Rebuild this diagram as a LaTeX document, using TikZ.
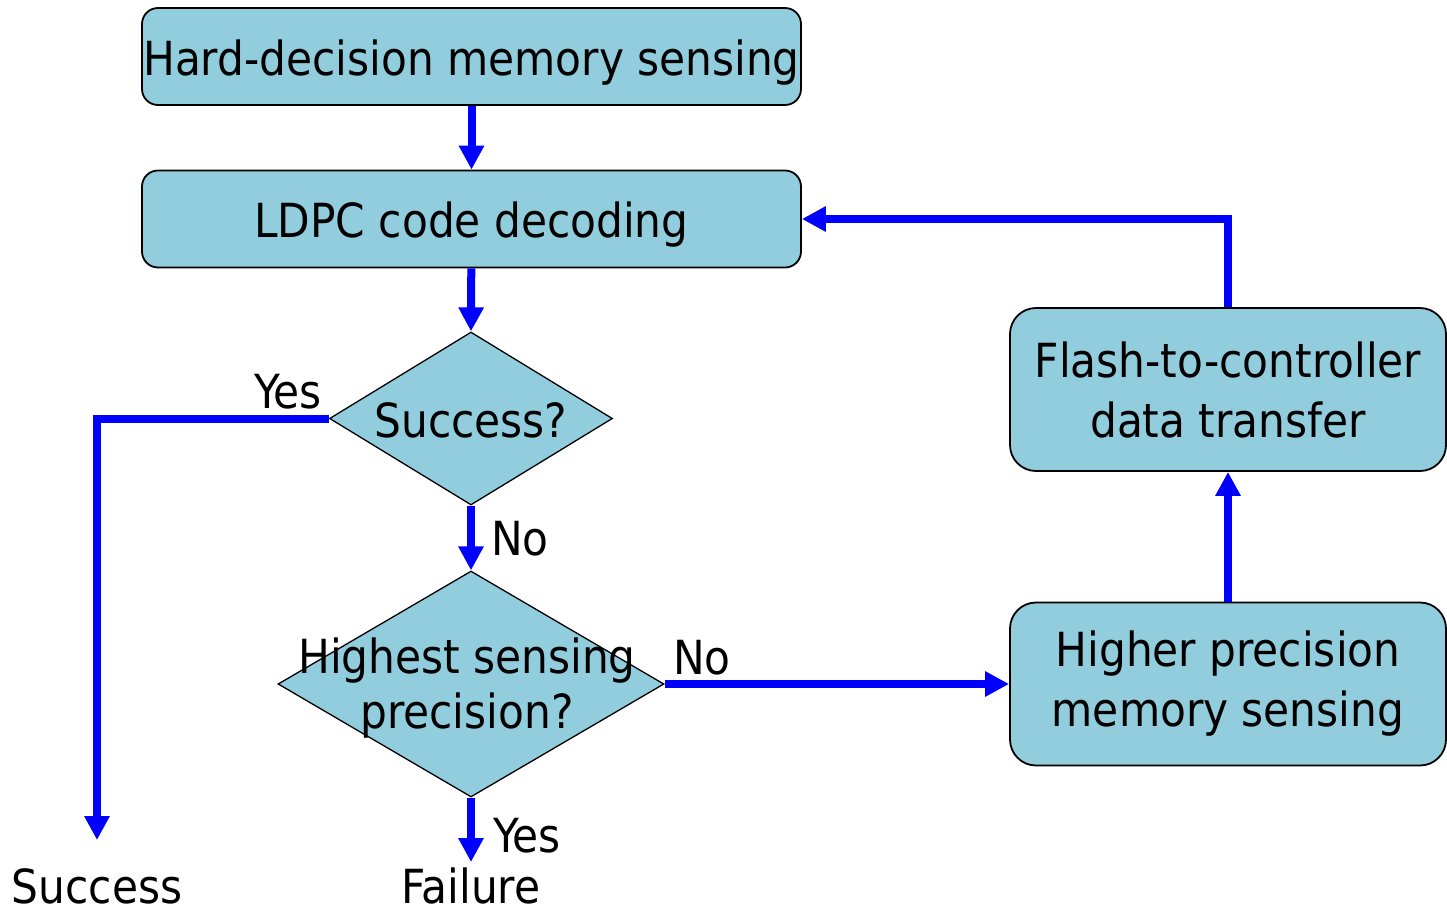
\documentclass[tikz,border=0pt]{standalone}
\usepackage{fontspec}
\setmainfont{DejaVu Sans Condensed}
\usetikzlibrary{shapes.geometric,arrows.meta}
\definecolor{boxfill}{RGB}{146,205,221}
\definecolor{flowblue}{RGB}{0,0,255}
\begin{document}
\begin{tikzpicture}[x=1pt,y=-1pt,
  every node/.style={font=\fontsize{47pt}{60pt}\selectfont},
  procbox/.style={draw=black, line width=1.8pt, fill=boxfill, inner sep=0pt, align=center},
  onelinebox/.style={procbox, rounded corners=16pt, minimum width=659pt, minimum height=97pt, text height=37pt, text depth=0pt},
  twolinebox/.style={procbox, rounded corners=26pt, minimum width=436pt, minimum height=163pt},
  decision/.style={diamond, draw=black, line width=1.3pt, fill=boxfill, inner sep=0pt},
  flow/.style={draw=flowblue, line width=8pt, -{Triangle[length=24pt,width=24pt]}},
  lbl/.style={inner sep=0pt, anchor=base}
]
\useasboundingbox (0,0) rectangle (1447,913);

% process boxes
\node[onelinebox] (hard) at (471.5,56.5) {Hard-decision memory sensing};
\node[onelinebox] (ldpc) at (471.5,219) {LDPC code decoding};
\node[twolinebox] (xfer) at (1228,389.5) {Flash-to-controller\\data transfer};
\node[twolinebox] (hps) at (1228,684) {Higher precision\\memory sensing};

% decisions
\node[decision, minimum width=283pt, minimum height=173pt] (succ) at (471,418.5) {};
\node[inner sep=0pt, text height=37pt, text depth=0pt] at (succ) {Success?};
\node[decision, minimum width=386pt, minimum height=226pt] (high) at (471,684) {};
\node[inner sep=0pt, align=center, font=\fontsize{47pt}{55pt}\selectfont] at (467,688.5) {Highest sensing\\precision?};

% free ends
\coordinate (okEnd) at (97,840);
\coordinate (failEnd) at (471,862);

% connectors
\draw[flow] (hard) -- (ldpc);
\draw[flow] (ldpc) -- (succ.north);
\draw[flow] (succ.south) -- (high.north);
\draw[flow] (succ.west) -| (okEnd);
\draw[flow] (high.south) -- (failEnd);
\draw[flow] (high.east) -- (hps.west);
\draw[flow] (hps) -- (xfer);
\draw[flow] (xfer.north) |- (ldpc.east);

% labels
\node[lbl] at (288,408) {Yes};
\node[lbl] at (520,555) {No};
\node[lbl] at (702,674) {No};
\node[lbl] at (527,852) {Yes};
\node[lbl] (okTxt) at (97,903) {Success};
\node[lbl] (failTxt) at (471,903) {Failure};
\end{tikzpicture}
\end{document}
